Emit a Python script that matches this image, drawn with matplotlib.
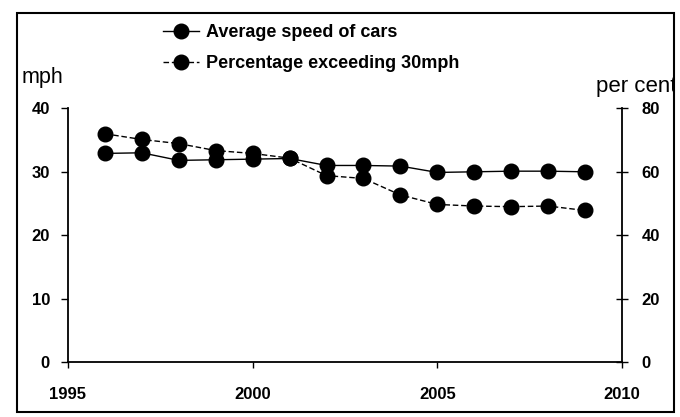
import matplotlib
matplotlib.use("Agg")
import matplotlib.pyplot as plt
from matplotlib.patches import Rectangle

years = [1996, 1997, 1998, 1999, 2000, 2001, 2002, 2003, 2004, 2005, 2006, 2007, 2008, 2009]
avg_speed_mph = [32.9, 33.0, 31.8, 31.9, 32.0, 32.1, 31.0, 31.0, 30.9, 29.9, 30.0, 30.1, 30.1, 30.0]
pct_exceeding = [72.0, 70.2, 68.9, 66.7, 65.8, 64.3, 58.8, 57.9, 52.7, 49.7, 49.2, 49.0, 49.2, 47.8]
x_ticks = [1995, 2000, 2005, 2010]
left_ticks = [0, 10, 20, 30, 40]
right_ticks = [0, 20, 40, 60, 80]
series_labels = ["Average speed of cars", "Percentage exceeding 30mph"]

FAM = ["Liberation Sans Narrow", "Liberation Sans", "DejaVu Sans"]
plt.rcParams['font.family'] = FAM

fig = plt.figure(figsize=(6.8, 4.17), dpi=100)
fig.patch.set_facecolor("white")

ax = fig.add_axes([0.1, 0.132, 0.8147, 0.608])
ax2 = ax.twinx()

l1, = ax.plot(years, avg_speed_mph, color="black", lw=1.0, ls="-",
              marker="o", ms=10.5, mfc="black", mec="black", zorder=3)
l2, = ax2.plot(years, pct_exceeding, color="black", lw=1.0, ls=(0, (4, 2)),
               marker="o", ms=10.5, mfc="black", mec="black", zorder=3)

ax.set_xlim(1995, 2010)
ax.set_ylim(0, 40)
ax2.set_ylim(0, 80)

for a in (ax, ax2):
    a.spines['top'].set_visible(False)
    a.set_facecolor("none")
ax.spines['right'].set_visible(False)
ax2.spines['left'].set_visible(False)
ax2.spines['bottom'].set_visible(False)
for s in ('left', 'bottom'):
    ax.spines[s].set_linewidth(1.3)
ax2.spines['right'].set_linewidth(1.3)

ax.set_xticks(x_ticks)
ax.set_xticklabels([str(v) for v in x_ticks], fontsize=12, fontweight="bold")
ax.set_yticks(left_ticks)
ax.set_yticklabels([str(v) for v in left_ticks], fontsize=12, fontweight="bold")
ax2.set_yticks(right_ticks)
ax2.set_yticklabels([str(v) for v in right_ticks], fontsize=12, fontweight="bold")

ax.tick_params(axis='x', direction='out', length=4, width=1.0, pad=14)
ax.tick_params(axis='y', direction='out', length=5, width=1.0, pad=8)
ax2.tick_params(axis='y', direction='inout', length=8, width=1.0, pad=10)

fig.text(22 / 680, 1 - 83 / 417, "mph", fontsize=15.5, ha="left", va="baseline")
t = fig.text(596 / 680, 1 - 92 / 417, "per cent", fontsize=16, ha="left", va="baseline")

leg = fig.legend([l1, l2], series_labels, loc="upper left",
                 bbox_to_anchor=(163 / 680, 1 - 24 / 417), frameon=False,
                 prop={'family': FAM, 'weight': 'bold', 'size': 13},
                 handlelength=2.0, handletextpad=0.4, labelspacing=0.8,
                 borderaxespad=0, borderpad=0)

frame = Rectangle((17 / 680, 1 - 412 / 417), (674 - 17) / 680, (412 - 13) / 417,
                  transform=fig.transFigure, fill=False, ec="black", lw=1.5)
fig.patches.append(frame)
clip = Rectangle((0, 0), 674 / 680, 1, transform=fig.transFigure, visible=False)
fig.patches.append(clip)
t.set_clip_path(clip)

fig.savefig("out.png", dpi=100, facecolor="white")
